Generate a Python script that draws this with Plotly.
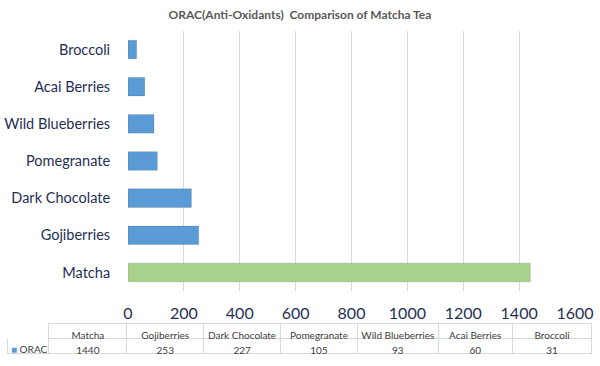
import plotly.graph_objects as go

categories = ["Matcha", "Gojiberries", "Dark Chocolate", "Pomegranate",
              "Wild Blueberries", "Acai Berries", "Broccoli"]
orac = [1440, 253, 227, 105, 93, 60, 31]
series_name = "ORAC"
x_ticks = [0, 200, 400, 600, 800, 1000, 1200, 1400, 1600]

W, H = 600, 366
BLUE = "#5B9BD5"
GREEN = "#A9D18E"
NAVY = "#1F2F55"

bar_colors = [GREEN if c == "Matcha" else BLUE for c in categories]

fig = go.Figure()
fig.add_trace(go.Bar(
    y=categories, x=orac, orientation="h",
    marker=dict(color=bar_colors, line=dict(color="rgba(0,0,0,0.12)", width=1)),
    width=0.5, showlegend=False, hoverinfo="x+y",
))

col_widths = [42, 78, 77, 77, 77, 81, 74, 80]
header_vals = [""] + [c.replace(" ", "\u00a0") for c in categories]
cell_vals = [[""]] + [[str(v)] for v in orac]
header_line = ["white"] + ["#D9D9D9"] * len(categories)

fig.add_trace(go.Table(
    domain=dict(x=[7 / W, 592 / W], y=[1 - 362 / H, 1 - 323 / H]),
    columnwidth=col_widths,
    header=dict(values=header_vals, height=15, align="center",
                line=dict(color=header_line, width=1),
                fill=dict(color="white"),
                font=dict(family="Lato", size=10, color="#404040")),
    cells=dict(values=cell_vals, height=15, align="center",
               line=dict(color="#D9D9D9", width=1),
               fill=dict(color="white"),
               font=dict(family="Lato", size=10, color="#404040")),
))

fig.add_annotation(
    x=9 / W, y=1 - 349 / H, xref="paper", yref="paper",
    xanchor="left", yanchor="middle", showarrow=False,
    text=f"<span style='color:{BLUE}'>■</span> {series_name}",
    font=dict(family="Lato", size=10, color="#404040"),
)

fig.update_layout(
    width=W, height=H,
    margin=dict(l=0, r=0, t=0, b=0),
    paper_bgcolor="white", plot_bgcolor="white", showlegend=False,
    title=dict(text="<b>ORAC(Anti-Oxidants)  Comparison of Matcha Tea</b>",
               x=0.5, xanchor="center", y=1 - 15 / H, yanchor="middle",
               font=dict(family="Lato", size=12, color="#595959")),
    xaxis=dict(domain=[128 / W, 575 / W], range=[0, 1600], tickvals=x_ticks,
               showgrid=True, gridcolor="#D9D9D9", gridwidth=1, zeroline=False,
               showline=False, ticks="outside", ticklen=8, tickcolor="rgba(0,0,0,0)",
               tickfont=dict(family="Lato", size=16, color=NAVY), automargin=False),
    yaxis=dict(domain=[1 - 291 / H, 1 - 31 / H], showgrid=False, zeroline=False,
               showline=False, ticks="outside", ticklen=14, tickcolor="rgba(0,0,0,0)",
               tickfont=dict(family="Lato", size=14.5, color=NAVY), automargin=False),
)

fig.write_html("out.html", config={"displayModeBar": False},
               post_script="document.body.style.margin='0';document.body.style.padding='0';")
